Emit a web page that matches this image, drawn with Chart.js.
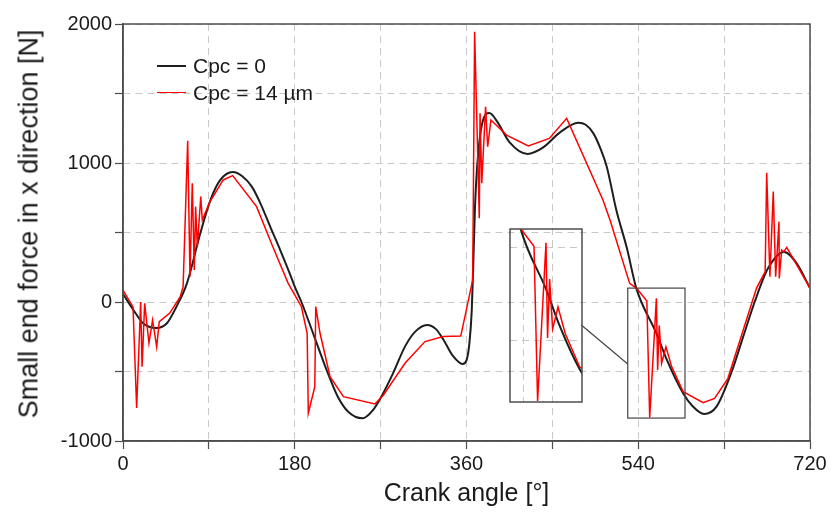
<!DOCTYPE html>
<html>
<head>
<meta charset="utf-8">
<title>Small end force</title>
<script src="https://cdn.jsdelivr.net/npm/chart.js@4.4.1/dist/chart.umd.min.js"></script>
<style>
  html, body { margin: 0; padding: 0; background: #fff; }
  #wrap { position: relative; width: 832px; height: 514px; }
  #main { position: absolute; left: 0; top: 0; }
  #inset { position: absolute; left: 509px; top: 228px; }
  #legend {
    position: absolute; left: 157px; top: 53px;
    font-family: "Liberation Sans", Arial, sans-serif; font-size: 21px; color: #1a1a1a;
  }
  .row { display: flex; align-items: center; height: 26.5px; white-space: nowrap; }
  .swatch { width: 29px; height: 0; margin-right: 7px; }
  #ytitle {
    position: absolute; left: 29px; top: 224px;
    transform: translate(-50%, -50%) rotate(-90deg);
    font-family: "Liberation Sans", Arial, sans-serif; font-size: 27px; line-height: 1;
    color: #1a1a1a; white-space: nowrap;
  }
</style>
</head>
<body>
<div id="wrap">
  <canvas id="main" width="832" height="514"></canvas>
  <canvas id="inset" width="74" height="175"></canvas>
  <div id="legend"></div>
  <div id="ytitle"></div>
</div>
<script>
'use strict';

//***********Data***********
let seriesLabels = ['Cpc = 0', 'Cpc = 14 µm'];
let seriesColors = ['#1e1e1e', '#ff0000'];
let xTitle = 'Crank angle [°]';
let yTitle = 'Small end force in x direction [N]';

// Cpc = 0 (smooth curve)
let angle0 = [0, 11, 21, 35, 46, 56, 67, 81, 92, 102, 115, 125, 135, 144, 155, 165, 175,
  180, 187, 200, 214, 225, 236, 251, 262, 270, 283, 295.5, 306, 318.6, 328, 336, 346,
  356, 360, 363, 365.5, 367, 369, 372, 377, 384, 392, 405, 424, 440, 458, 477, 485,
  493, 500, 507, 517, 528, 538, 559, 570, 587, 597, 609, 622, 638, 650, 662, 676,
  693, 706, 720];
let force0 = [58, -58, -153, -187, -153, -34, 134, 494, 740, 878, 935, 905, 830, 710, 530, 370, 200,
  110, 0, -240, -500, -680, -790, -837, -777, -690, -513, -321, -215, -165, -195, -273, -390,
  -446, -420, -300, -60, 250, 700, 1050, 1300, 1360, 1300, 1150, 1065, 1110, 1220, 1290, 1275,
  1213, 1110, 973, 662, 390, 98, -225, -417, -657, -750, -806, -753, -500, -249, 0, 242,
  360, 278, 100];

// Cpc = 14 µm (with oscillations)
let angle14 = [0, 10.5, 14.3, 18.5, 20, 22.7, 27.2, 31, 35.3, 38, 49, 60, 63,
  67.8, 70.2, 72.6, 74.7, 76.1, 77.9, 81.5, 83.1, 91, 105, 115, 140, 157, 173, 187,
  193, 194.2, 201, 202, 206.5, 217, 231, 264, 273, 295.5, 316.5, 335.7, 354, 366.5,
  368.5, 373.4, 374.2, 376, 380, 382.2, 385.6, 402, 424.8, 446.8, 465, 503, 510.4, 531,
  538.3, 549, 552, 559, 560.3, 562, 564.5, 569, 575, 587, 608, 620, 634, 650, 664, 673,
  674.6, 678, 681.5, 684, 687.5, 687.8, 690.3, 692.5, 695.6, 720];
let force14 = [86, -35, -762, 0, -465, -10, -295, -130, -322, -142, -80, 38, 110,
  1160, 182, 854, 230, 686, 398, 758, 590, 720, 878, 909, 686, 398, 136, -34,
  -225, -800, -610, -34, -225, -537, -681, -734, -669, -441, -285, -249, -245, 158,
  1945, 602, 1357, 854, 1405, 1117, 1309, 1201, 1122, 1177, 1321, 734, 590, 134,
  98, 7, -830, 26, -489, -170, -441, -322, -465, -645, -724, -693, -549, -201, 100, 218,
  930, 182, 794, 182, 578, 170, 374, 360, 393, 100];

// axis ticks
let xTicks = [0, 180, 360, 540, 720];
let yTicks = [-1000, 0, 1000, 2000];

// zoomed window shown in the inset
let zoomX = [529, 589];
let zoomY = [-835, 100];
let zoomGridX = [540];
let zoomGridY = [0, -500];
// connector from inset edge to zoom box (data units of the main chart)
let zoomLink = [[480.3, -165], [529, -446]];

//***********Helpers***********
function toPoints(xs, ys) {
  let pts = [];
  for (let i = 0; i < xs.length; i++) {
    pts.push({ x: xs[i], y: ys[i] });
  }
  return pts;
}

function makeDatasets() {
  return [{
    label: seriesLabels[0],
    data: toPoints(angle0, force0),
    borderColor: seriesColors[0],
    borderWidth: 2,
    pointRadius: 0,
    cubicInterpolationMode: 'monotone',
    order: 1
  }, {
    label: seriesLabels[1],
    data: toPoints(angle14, force14),
    borderColor: seriesColors[1],
    borderWidth: 1.5,
    pointRadius: 0,
    tension: 0,
    order: 0
  }];
}

let tickFont = { family: '"Liberation Sans", Arial, sans-serif', size: 20 };
let titleFont = { family: '"Liberation Sans", Arial, sans-serif', size: 25 };
let axisColor = '#4d4d4d';
let gridColor = '#c8c8c8';

// frame on top/right, zoom box and connector line
let framePlugin = {
  id: 'frame',
  afterDatasetsDraw(chart) {
    let ctx = chart.ctx;
    let a = chart.chartArea;
    ctx.save();
    ctx.strokeStyle = axisColor;
    ctx.lineWidth = 1.5;
    ctx.strokeRect(a.left, a.top, a.right - a.left, a.bottom - a.top);
    if (chart.canvas.id === 'main') {
      let xs = chart.scales.x;
      let ys = chart.scales.y;
      let x1 = xs.getPixelForValue(zoomX[0]);
      let x2 = xs.getPixelForValue(zoomX[1]);
      let y1 = ys.getPixelForValue(zoomY[1]);
      let y2 = ys.getPixelForValue(zoomY[0]);
      ctx.lineWidth = 1.2;
      ctx.strokeStyle = '#444';
      ctx.strokeRect(x1, y1, x2 - x1, y2 - y1);
      ctx.beginPath();
      ctx.moveTo(xs.getPixelForValue(zoomLink[0][0]), ys.getPixelForValue(zoomLink[0][1]));
      ctx.lineTo(xs.getPixelForValue(zoomLink[1][0]), ys.getPixelForValue(zoomLink[1][1]));
      ctx.stroke();
    }
    ctx.restore();
  }
};

//***********Main chart***********
let mainChart = new Chart(document.getElementById('main'), {
  type: 'line',
  data: { datasets: makeDatasets() },
  plugins: [framePlugin],
  options: {
    responsive: false,
    animation: false,
    layout: { padding: { top: 24, right: 22, left: 0, bottom: 0 } },
    plugins: { legend: { display: false }, tooltip: { enabled: false } },
    scales: {
      x: {
        type: 'linear',
        min: 0,
        max: 720,
        afterFit: function (scale) { scale.height = 73; },
        ticks: {
          stepSize: 90,
          autoSkip: false,
          maxRotation: 0,
          font: tickFont,
          color: '#1a1a1a',
          padding: 3,
          callback: function (v) { return xTicks.includes(v) ? String(v) : ''; }
        },
        grid: { color: gridColor, tickColor: axisColor, tickLength: 8, tickWidth: 1.2 },
        border: { color: axisColor, width: 1.5, dash: [7, 5] },
        title: { display: true, text: xTitle, font: titleFont, color: '#1a1a1a', padding: { top: 0, bottom: 5 } }
      },
      y: {
        type: 'linear',
        min: -1000,
        max: 2000,
        afterFit: function (scale) { scale.width = 123; },
        ticks: {
          stepSize: 500,
          font: tickFont,
          color: '#1a1a1a',
          padding: 3,
          callback: function (v) { return yTicks.includes(v) ? String(v) : ''; }
        },
        grid: { color: gridColor, tickColor: axisColor, tickLength: 8, tickWidth: 1.2 },
        border: { color: axisColor, width: 1.5, dash: [7, 5] }
      }
    }
  }
});

//***********Inset chart***********
let insetChart = new Chart(document.getElementById('inset'), {
  type: 'line',
  data: { datasets: makeDatasets() },
  plugins: [framePlugin],
  options: {
    responsive: false,
    animation: false,
    layout: { padding: 1 },
    plugins: { legend: { display: false }, tooltip: { enabled: false } },
    scales: {
      x: {
        type: 'linear',
        min: zoomX[0],
        max: zoomX[1],
        afterBuildTicks: function (scale) { scale.ticks = zoomGridX.map(v => ({ value: v })); },
        afterFit: function (scale) { scale.height = 0; },
        ticks: { display: false },
        grid: { color: gridColor, drawTicks: false },
        border: { display: false, dash: [7, 5] }
      },
      y: {
        type: 'linear',
        min: zoomY[0],
        max: zoomY[1],
        afterBuildTicks: function (scale) { scale.ticks = zoomGridY.map(v => ({ value: v })); },
        afterFit: function (scale) { scale.width = 0; },
        ticks: { display: false },
        grid: { color: gridColor, drawTicks: false },
        border: { display: false, dash: [7, 5] }
      }
    }
  }
});

//***********Legend and y title***********
document.getElementById('ytitle').textContent = yTitle;
let legendBox = document.getElementById('legend');
for (let i = 0; i < seriesLabels.length; i++) {
  let row = document.createElement('div');
  row.className = 'row';
  let sw = document.createElement('span');
  sw.className = 'swatch';
  sw.style.borderTop = (i === 0 ? 2 : 1.5) + 'px solid ' + seriesColors[i];
  let txt = document.createElement('span');
  txt.textContent = seriesLabels[i];
  row.appendChild(sw);
  row.appendChild(txt);
  legendBox.appendChild(row);
}
</script>
</body>
</html>
